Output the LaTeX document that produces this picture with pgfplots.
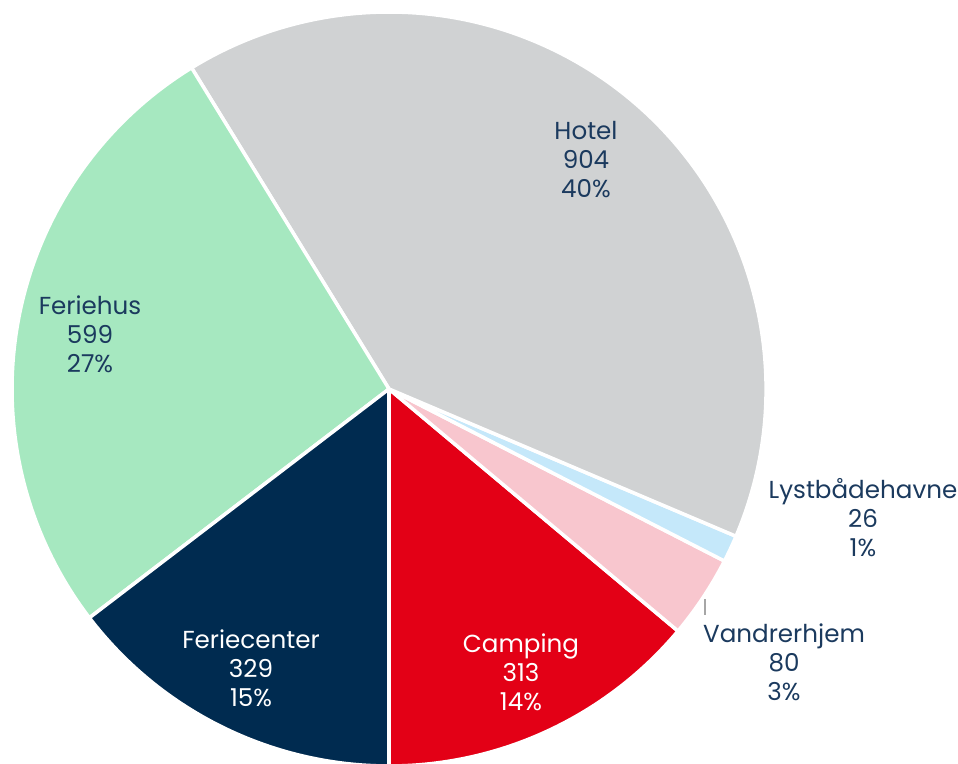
\documentclass[border=0pt]{standalone}
\usepackage{pgfplots}
\pgfplotsset{compat=1.18}
\usepackage{fontspec}
\setmainfont{Poppins}
\usepackage{xcolor}

\definecolor{txtblue}{HTML}{1B3A5E}
\definecolor{hotelgray}{HTML}{D0D2D3}
\definecolor{ferihusgreen}{HTML}{A6E8C0}
\definecolor{centernavy}{HTML}{002B50}
\definecolor{campred}{HTML}{E30016}
\definecolor{vandrpink}{HTML}{F8C6CE}
\definecolor{lystblue}{HTML}{C5E8FA}

% pie centre and radius in axis units (1 unit = 1cm)
\def\cx{7.78}
\def\cy{7.50}
\def\rr{7.54}
\def\total{2251}

\newcommand{\slice}[3]{%
  \fill[#3, draw=white, line width=2pt, line join=round]
    (axis cs:\cx,\cy) -- (axis cs:{\cx+\rr*cos(#1)},{\cy+\rr*sin(#1)})
    arc[start angle=#1, end angle=#2, radius=\rr cm] -- cycle;}

\begin{document}
\begin{tikzpicture}[font=\fontsize{14}{16.5}\selectfont]
% cumulative angles, counter-clockwise from straight down
\pgfmathsetmacro\aA{270}
\pgfmathsetmacro\aB{\aA+313/\total*360}  % Camping
\pgfmathsetmacro\aC{\aB+80/\total*360}   % Vandrerhjem
\pgfmathsetmacro\aD{\aC+26/\total*360}   % Lystbaadehavne
\pgfmathsetmacro\aE{\aD+904/\total*360}  % Hotel
\pgfmathsetmacro\aF{\aE+599/\total*360}  % Feriehus
\pgfmathsetmacro\aG{\aF+329/\total*360}  % Feriecenter
\begin{axis}[
    x=1cm, y=1cm,
    xmin=0, xmax=19.16, ymin=0, ymax=15.28,
    hide axis, clip=false,
]
\coordinate (bl) at (axis cs:0,0);
\coordinate (tr) at (axis cs:19.16,15.28);

\slice{\aA}{\aB}{campred}
\slice{\aB}{\aC}{vandrpink}
\slice{\aC}{\aD}{lystblue}
\slice{\aD}{\aE}{hotelgray}
\slice{\aE}{\aF}{ferihusgreen}
\slice{\aF}{\aG}{centernavy}

% labels
\begin{scope}[every node/.style={align=center, inner sep=0pt}]
\node[text=txtblue] at (axis cs:11.72,12.08) {Hotel\\904\\40\%};
\node[text=txtblue] at (axis cs:1.80,8.60) {Feriehus\\599\\27\%};
\node[text=white] at (axis cs:5.02,1.92) {Feriecenter\\329\\15\%};
\node[text=white] at (axis cs:10.42,1.84) {Camping\\313\\14\%};
\node[text=txtblue] at (axis cs:17.26,4.92) {Lystbådehavne\\26\\1\%};
\node[text=txtblue] at (axis cs:15.68,2.04) {Vandrerhjem\\80\\3\%};
\end{scope}

% leader line
\draw[gray!70, line width=0.8pt] (axis cs:14.10,3.30) -- (axis cs:14.10,2.98);
\end{axis}
\pgfresetboundingbox
\path (bl) rectangle (tr);
\end{tikzpicture}
\end{document}
